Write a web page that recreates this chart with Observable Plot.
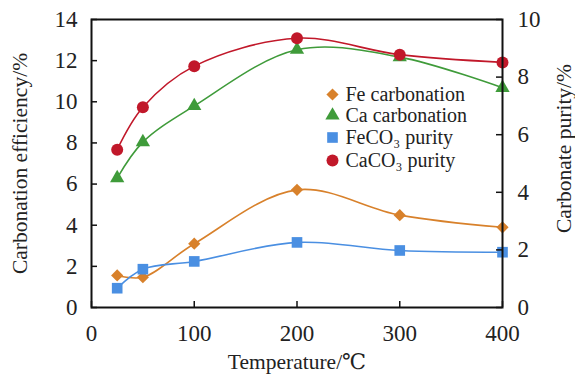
<!DOCTYPE html>
<html>
<head>
<meta charset="utf-8">
<script src="https://cdn.jsdelivr.net/npm/d3@7"></script>
<script src="https://cdn.jsdelivr.net/npm/@observablehq/plot@0.6"></script>
<style>
  html, body { margin: 0; padding: 0; background: #fff; }
  #chart svg { display: block; }
  #chart svg, #chart svg text { font-family: "Liberation Serif", "DejaVu Serif", serif !important; }
</style>
</head>
<body>
<div id="chart"></div>
<script>
// ---- data ----
const temperatures = [25, 50, 100, 200, 300, 400];
const feCarbonation = [1.56, 1.47, 3.1, 5.72, 4.49, 3.9];     // left axis (%)
const caCarbonation = [6.29, 8.04, 9.8, 12.53, 12.17, 10.68]; // left axis (%)
const feco3Purity   = [0.67, 1.33, 1.6, 2.26, 1.98, 1.92];    // right axis (%)
const caco3Purity   = [5.48, 6.95, 8.38, 9.35, 8.78, 8.51];   // right axis (%)
const xTicks = [0, 100, 200, 300, 400];
const leftTicks = [0, 2, 4, 6, 8, 10, 12, 14];
const rightTicks = [0, 2, 4, 6, 8, 10];
const seriesNames = ["Fe carbonation", "Ca carbonation", "FeCO\u2083 purity", "CaCO\u2083 purity"];
const seriesAxis = ["left", "left", "right", "right"];
const seriesValues = [feCarbonation, caCarbonation, feco3Purity, caco3Purity];
const seriesColors = ["#d8812b", "#3f9b3a", "#4a8fe2", "#c1182a"];
const seriesSymbols = ["diamond2", "triangle", "square", "circle"];
const seriesR = [5.5, 5.3, 6, 6];

// ---- layout ----
const W = 575, H = 384;
const mL = 91, mR = 73, mT = 19, mB = 77;
const fw = W - mL - mR, fh = H - mT - mB;
const k = 14 / 10; // right axis -> left axis scale factor
const tickLen = 6;

const rows = [];
seriesNames.forEach((name, i) => {
  temperatures.forEach((t, j) => {
    const v = seriesValues[i][j];
    rows.push({series: name, x: t, y: seriesAxis[i] === "right" ? v * k : v, i});
  });
});

const legendDy = [75, 96, 118, 141];
const marks = [];

seriesNames.forEach((name, i) => {
  const d = rows.filter(r => r.i === i);
  marks.push(Plot.line(d, {x: "x", y: "y", curve: "catmull-rom", stroke: seriesColors[i], strokeWidth: 1.6}));
});
seriesNames.forEach((name, i) => {
  const d = rows.filter(r => r.i === i);
  marks.push(Plot.dot(d, {x: "x", y: "y", symbol: seriesSymbols[i], fill: seriesColors[i], r: seriesR[i], stroke: "none"}));
});

// axes and ticks
marks.push(Plot.frame({stroke: "#111", strokeWidth: 2}));
marks.push(Plot.tickY(leftTicks, {y: d => d, stroke: "#111", strokeWidth: 1.5, insetRight: fw - tickLen}));
marks.push(Plot.tickY(rightTicks, {y: d => d * k, stroke: "#111", strokeWidth: 1.5, insetLeft: fw - tickLen}));
marks.push(Plot.tickX(xTicks, {x: d => d, stroke: "#111", strokeWidth: 1.5, insetTop: fh - tickLen}));
marks.push(Plot.axisY(leftTicks, {anchor: "left", tickSize: 0, tickPadding: 14, label: null, fontSize: 23, fill: "#222"}));
marks.push(Plot.axisY(rightTicks.map(d => d * k), {anchor: "right", tickSize: 0, tickPadding: 15, label: null, fontSize: 23, fill: "#222", tickFormat: d => Math.round(d / k)}));
marks.push(Plot.axisX(xTicks, {anchor: "bottom", tickSize: 0, tickPadding: 17, label: null, fontSize: 23, fill: "#222"}));

// axis titles
marks.push(Plot.text(["Carbonation efficiency/%"], {frameAnchor: "left", dx: -71, rotate: -90, fontSize: 21.5, fill: "#222", textAnchor: "middle", lineAnchor: "middle"}));
marks.push(Plot.text(["Carbonate purity/%"], {frameAnchor: "right", dx: 62, dy: -15, rotate: -90, fontSize: 21.5, fill: "#222", textAnchor: "middle", lineAnchor: "middle"}));
marks.push(Plot.text(["Temperature/\u2103"], {frameAnchor: "bottom", dy: 55, fontSize: 21.5, fill: "#222", textAnchor: "middle", lineAnchor: "middle"}));

// legend
seriesNames.forEach((name, i) => {
  marks.push(Plot.dot([name], {frameAnchor: "top-left", dx: 241, dy: legendDy[i], symbol: seriesSymbols[i], fill: seriesColors[i], r: seriesR[i]}));
  marks.push(Plot.text([name], {frameAnchor: "top-left", dx: 254, dy: legendDy[i], text: d => d, textAnchor: "start", lineAnchor: "middle", fontSize: 20, fill: "#222"}));
});

const chart = Plot.plot({
  width: W, height: H,
  marginLeft: mL, marginRight: mR, marginTop: mT, marginBottom: mB,
  style: {fontFamily: "'Liberation Serif', 'Times New Roman', serif", background: "#fff", color: "#222"},
  x: {domain: [0, 400]},
  y: {domain: [0, 14]},
  marks
});
document.getElementById("chart").appendChild(chart);
</script>
</body>
</html>
